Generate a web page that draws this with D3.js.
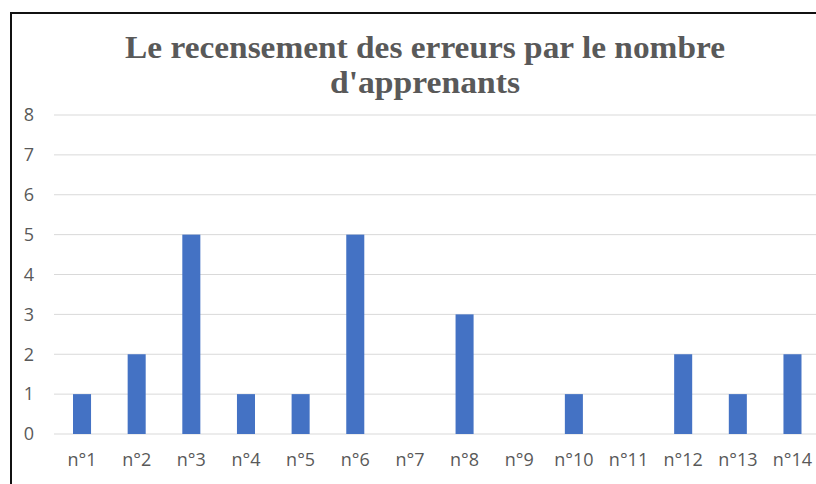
<!DOCTYPE html>
<html><head><meta charset="utf-8">
<script src="https://cdn.jsdelivr.net/npm/d3@7"></script>
<style>body{margin:0;background:#fff}svg{display:block}</style>
</head><body>
<script>
const categories = ["n°1","n°2","n°3","n°4","n°5","n°6","n°7","n°8","n°9","n°10","n°11","n°12","n°13","n°14"];
const values = [1,2,5,1,1,5,0,3,0,1,0,2,1,2];
const yTicks = [0,1,2,3,4,5,6,7,8];
const titleLines = ["Le recensement des erreurs par le nombre","d'apprenants"];

const W = 816, H = 484;
const svg = d3.select("body").append("svg").attr("width", W).attr("height", H);
svg.append("rect").attr("width", W).attr("height", H).attr("fill", "#fff");
// frame
svg.append("path").attr("d", "M11,484 V13 H816").attr("fill","none").attr("stroke","#111").attr("stroke-width",2);

const x = d3.scaleBand().domain(categories).range([54.7, 819.8]).paddingInner(0.67).paddingOuter(0.335);
const y = d3.scaleLinear().domain([0, 8]).range([434, 115]);

const grid = svg.append("g");
grid.selectAll("line").data(yTicks).join("line")
  .attr("x1", 54).attr("x2", 816)
  .attr("y1", d => y(d)).attr("y2", d => y(d))
  .attr("stroke", "#d9d9d9").attr("stroke-width", 1);

const yAxis = svg.append("g").attr("transform", "translate(34,0)")
  .call(d3.axisLeft(y).tickValues(yTicks).tickSize(0).tickPadding(0));
yAxis.select(".domain").remove();
yAxis.selectAll("text").attr("font-family", "'Open Sans', sans-serif").attr("font-size", 18).attr("fill", "#595959");

svg.append("g").selectAll("rect").data(values).join("rect")
  .attr("x", (d, i) => x(categories[i]))
  .attr("width", x.bandwidth())
  .attr("y", d => y(d))
  .attr("height", d => y(0) - y(d))
  .attr("fill", "#4472c4");

const xAxis = svg.append("g").attr("transform", `translate(0,${y(0)})`)
  .call(d3.axisBottom(x).tickSize(0).tickPadding(19));
xAxis.select(".domain").remove();
xAxis.selectAll("text").attr("font-family", "'Open Sans', sans-serif").attr("font-size", 18).attr("fill", "#595959");

const tl = [600, 190];
svg.append("g").selectAll("text").data(titleLines).join("text")
  .attr("x", 425).attr("y", (d, i) => 58 + i * 35)
  .attr("text-anchor", "middle")
  .attr("font-family", "'Liberation Serif', 'Times New Roman', serif")
  .attr("font-weight", "bold").attr("font-size", 31).attr("fill", "#595959")
  .attr("textLength", (d, i) => tl[i]).attr("lengthAdjust", "spacingAndGlyphs")
  .text(d => d);
</script>
</body></html>
